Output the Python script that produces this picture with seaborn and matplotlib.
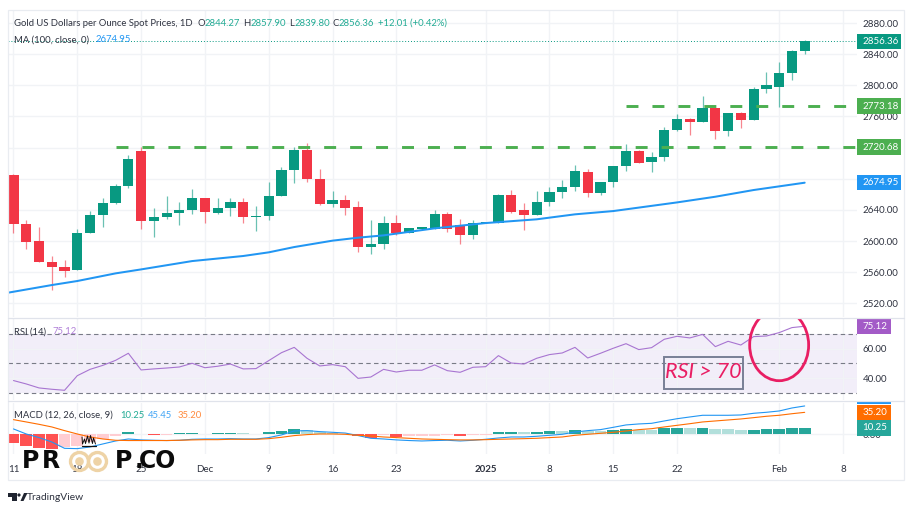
import matplotlib
matplotlib.use("Agg")
import matplotlib.pyplot as plt
import numpy as np
import pandas as pd
import seaborn as sns
from matplotlib.patches import Circle, Ellipse, Polygon, Rectangle

# ---------- data ----------
opens = [2684.9, 2621.5, 2600.0, 2573.0, 2567.0, 2563.0, 2610.0, 2633.5, 2648.5, 2671.0,
         2715.7, 2625.8, 2631.0, 2636.5, 2640.3, 2655.0, 2636.5, 2642.0, 2649.8, 2631.0,
         2632.6, 2658.0, 2691.3, 2717.0, 2679.3, 2647.6, 2652.8, 2643.4, 2592.0, 2596.3,
         2622.8, 2610.8, 2616.0, 2615.0, 2634.4, 2620.7, 2607.4, 2623.2, 2623.6, 2659.6,
         2639.5, 2634.0, 2649.8, 2663.5, 2669.0, 2689.0, 2661.3, 2676.3, 2696.4, 2715.6,
         2702.0, 2708.4, 2742.2, 2756.7, 2753.3, 2770.4, 2741.3, 2764.0, 2755.0, 2795.3,
         2797.8, 2816.2, 2844.27]
closes = [2621.5, 2599.3, 2573.0, 2567.0, 2561.6, 2610.0, 2633.5, 2648.5, 2671.0, 2705.4,
          2625.8, 2631.0, 2636.5, 2640.0, 2655.0, 2637.4, 2642.0, 2649.8, 2631.0, 2632.0,
          2657.9, 2691.3, 2717.0, 2679.3, 2647.2, 2652.8, 2642.5, 2592.0, 2596.3, 2622.8,
          2610.0, 2616.8, 2617.7, 2634.4, 2615.0, 2607.4, 2622.8, 2623.5, 2659.6, 2637.4,
          2634.0, 2650.0, 2663.5, 2669.5, 2690.4, 2662.0, 2676.3, 2696.4, 2715.6, 2700.7,
          2708.4, 2742.2, 2756.3, 2753.3, 2771.3, 2741.8, 2764.0, 2755.0, 2795.3, 2800.8,
          2816.2, 2844.5, 2856.36]
highs = [2686.0, 2627.0, 2618.5, 2581.0, 2575.7, 2615.0, 2639.0, 2655.0, 2673.0, 2711.0,
         2721.0, 2642.0, 2658.0, 2649.8, 2666.5, 2655.0, 2655.0, 2656.0, 2655.0, 2645.0,
         2675.4, 2694.7, 2721.0, 2725.5, 2692.6, 2664.0, 2658.8, 2652.0, 2627.0, 2632.0,
         2633.5, 2617.0, 2618.0, 2640.0, 2637.8, 2628.0, 2627.0, 2624.0, 2660.5, 2665.6,
         2649.0, 2664.0, 2669.9, 2678.5, 2697.7, 2692.5, 2676.5, 2696.5, 2724.6, 2717.0,
         2714.4, 2746.0, 2763.0, 2757.6, 2785.8, 2771.7, 2764.9, 2765.7, 2798.3, 2817.5,
         2830.3, 2845.3, 2857.9]
lows = [2610.8, 2590.0, 2573.0, 2537.0, 2554.0, 2563.0, 2610.0, 2618.5, 2648.0, 2668.6,
        2616.0, 2605.7, 2628.0, 2621.0, 2634.4, 2622.8, 2634.4, 2632.6, 2623.7, 2613.4,
        2627.0, 2658.0, 2675.0, 2675.5, 2646.4, 2643.4, 2633.0, 2586.4, 2583.4, 2589.9,
        2607.8, 2610.0, 2615.0, 2615.0, 2611.7, 2595.9, 2602.7, 2622.8, 2622.8, 2636.5,
        2614.3, 2633.0, 2645.0, 2655.8, 2663.9, 2657.0, 2659.0, 2669.8, 2690.4, 2699.8,
        2689.0, 2702.8, 2742.0, 2736.2, 2752.9, 2730.6, 2734.9, 2744.8, 2755.0, 2789.7,
        2772.1, 2806.8, 2839.8]

ma_days = [-0.43, 3, 5, 8, 10, 14, 18, 20, 22, 25, 27, 29, 33, 37, 41, 44, 47, 52, 55, 58, 62]
ma_values = [2533.8, 2543.6, 2548.8, 2558.6, 2563.7, 2574.4, 2580.9, 2585.6, 2592.4, 2600.6,
             2604.4, 2607.4, 2616.4, 2623.2, 2628.0, 2634.4, 2638.6, 2649.7, 2657.0, 2665.6, 2675.0]

rsi = [38.3, 36.0, 33.3, 32.4, 31.7, 41.6, 45.9, 48.6, 52.0, 56.8,
       45.5, 46.2, 46.8, 47.5, 50.0, 47.0, 48.0, 49.5, 46.2, 46.4,
       51.8, 57.2, 60.8, 53.4, 48.2, 49.1, 47.7, 39.8, 40.7, 45.9,
       44.1, 45.3, 45.3, 48.9, 45.0, 43.9, 47.3, 47.7, 55.2, 50.2,
       49.5, 53.4, 55.9, 57.0, 60.8, 53.6, 56.8, 60.2, 63.3, 59.3,
       60.6, 66.3, 68.3, 67.2, 69.6, 61.3, 64.9, 62.4, 68.1, 68.5,
       70.8, 74.2, 75.12]

macd = [8.6, 0.5, -5.3, -12.3, -22.5, -23.0, -20.3, -15.5, -10.7, -7.5,
        -9.0, -9.6, -10.0, -9.6, -8.0, -7.5, -7.5, -7.0, -7.5, -7.5,
        -5.3, -1.0, 5.3, 5.9, 4.3, 3.2, 2.0, -2.0, -6.4, -7.5,
        -9.0, -10.0, -10.7, -10.0, -9.6, -10.7, -9.6, -8.0, -5.9, -4.3,
        -4.3, -3.2, -1.6, 0.0, 3.7, 5.9, 7.5, 11.2, 15.0, 16.6,
        17.6, 21.4, 25.0, 27.8, 30.5, 30.5, 30.5, 31.0, 33.7, 35.3,
        37.4, 42.2, 45.45]
signal = [23.5, 19.8, 16.0, 11.8, 5.9, 0.5, -4.3, -7.5, -9.6, -10.0,
          -10.0, -10.0, -10.0, -9.6, -9.0, -8.6, -8.6, -8.0, -8.0, -8.0,
          -7.0, -4.8, -2.1, -0.5, 0.5, 0.5, 0.0, -1.6, -2.7, -4.3,
          -5.3, -6.4, -7.5, -8.0, -8.6, -9.0, -9.0, -8.6, -8.0, -7.5,
          -7.0, -6.4, -5.3, -4.3, -1.6, 0.0, 1.6, 3.2, 5.3, 7.5,
          9.0, 11.8, 14.4, 17.0, 19.8, 21.4, 23.0, 24.6, 26.7, 28.9,
          30.5, 33.0, 35.2]
hist = [-14.4, -18.2, -22.5, -23.0, -20.0, -18.0, -13.0, -7.0, -3.0, 3.0,
        1.0, -1.2, -0.5, 1.4, 2.0, 1.0, 2.0, 2.4, 1.5, 0.7,
        2.9, 5.5, 8.5, 6.5, 4.0, 1.5, 0.3, -3.0, -6.0, -1.5,
        -4.0, -3.5, -2.5, -2.0, -1.5, -3.0, -1.0, -0.5, 3.0, 3.2,
        3.0, 4.0, 5.5, 5.3, 7.0, 6.0, 5.5, 7.5, 8.5, 7.5,
        7.0, 9.5, 10.5, 10.0, 10.5, 9.0, 8.0, 6.5, 7.5, 8.0,
        8.7, 9.8, 10.25]

price_ticks = [2880, 2840, 2800, 2760, 2720, 2680, 2640, 2600, 2560, 2520]
rsi_ticks = [60, 40]
date_ticks = [0, 5, 10, 15, 20, 25, 30, 37, 42, 47, 52, 60, 65]
date_labels = ["11", "18", "25", "Dec", "9", "16", "23", "2025", "8", "15", "22", "Feb", "8"]

GREEN = "#089981"
RED = "#f23645"
BLUE = "#2196f3"
ORANGE = "#ff6d00"
PURPLE = "#a875d1"
LEVEL = "#4caf50"
PINK = "#e91e63"
GRID = "#f1f3f6"
TEXT = "#2f3340"
FONT = ["Lato", "DejaVu Sans"]

sns.set_style("white")
plt.rcParams["font.family"] = FONT

days = np.arange(len(closes))
df = pd.DataFrame({"day": days, "open": opens, "close": closes, "high": highs, "low": lows,
                   "rsi": rsi, "macd": macd, "signal": signal, "hist": hist})
df["up"] = df["close"] >= df["open"]
df["color"] = np.where(df["up"], GREEN, RED)

W, H = 912, 513
fig = plt.figure(figsize=(W / 100, H / 100), dpi=100, facecolor="white")


def panel(left, top, right, bottom):
    return fig.add_axes([left / W, 1 - bottom / H, (right - left) / W, (bottom - top) / H])


ax = panel(8, 10, 857, 317)
ax_rsi = panel(8, 318, 857, 400)
ax_macd = panel(8, 403, 857, 454)

for a in (ax, ax_rsi, ax_macd):
    a.set_xlim(-0.43, 66.1)
    a.set_xticks(date_ticks)
    a.grid(True, color=GRID, lw=1.0)
    a.set_axisbelow(True)
    a.yaxis.tick_right()
    a.tick_params(length=0, labelsize=7.0, labelcolor=TEXT, pad=4.2)
    sns.despine(ax=a, left=True, bottom=True, right=True, top=True)


def badge(a, value, label, color, width):
    # coloured tag on the price scale, height is 15.5 px whatever the panel's scale
    y0, y1 = a.get_ylim()
    h = 15.5 * (y1 - y0) / (a.get_position().height * H)
    tr = a.get_yaxis_transform()
    a.add_patch(Rectangle((1, value - h / 2), width / 849, h, transform=tr, fc=color, ec="none",
                          clip_on=False, zorder=20))
    a.text(1 + 5.5 / 849, value, label, transform=tr, color="white", fontsize=7.0,
           va="center", ha="left", zorder=21, clip_on=False)


# ---------- price panel ----------
ax.set_ylim(2502.6, 2896.7)
ax.set_yticks(price_ticks)
ax.set_yticklabels([f"{t:.2f}" for t in price_ticks])
ax.set_xticklabels([])

ax.vlines(df["day"], df["low"], df["high"], colors=df["color"], lw=0.9, alpha=0.6, zorder=2)
ax.bar(df["day"], (df["close"] - df["open"]).abs().clip(lower=0.8),
       bottom=df[["open", "close"]].min(axis=1), width=0.8, color=df["color"], lw=0, zorder=3)

sns.lineplot(x=ma_days, y=ma_values, color=BLUE, lw=1.45, ax=ax, zorder=4)
ax.axhline(closes[-1], color=GREEN, lw=0.7, ls=(0, (1, 2)), zorder=1)

# support / resistance levels, with the day they start on
for level, start in [(2720.68, 8.03), (2773.18, 48.0)]:
    ax.plot([start, 66.1], [level, level], color=LEVEL, lw=2.1, dashes=(4.1, 4.8),
            dash_capstyle="butt", zorder=5)

badge(ax, closes[-1], "2856.36", GREEN, 44)
badge(ax, 2773.18, "2773.18", LEVEL, 44)
badge(ax, 2720.68, "2720.68", LEVEL, 44)
badge(ax, ma_values[-1], "2674.95", BLUE, 44)

# ---------- RSI panel ----------
ax_rsi.set_ylim(50 - 36.7 / 1.475, 50 + 45.3 / 1.475)
ax_rsi.set_yticks(rsi_ticks)
ax_rsi.set_yticklabels([f"{t:.2f}" for t in rsi_ticks])
ax_rsi.set_xticklabels([])
ax_rsi.axhspan(30, 70, color="#f2eef9", lw=0, zorder=0)
for lvl in (70, 50, 30):
    ax_rsi.axhline(lvl, color="#787b86", lw=0.8, ls=(0, (4, 3)), zorder=1)
sns.lineplot(data=df, x="day", y="rsi", color=PURPLE, lw=0.8, ax=ax_rsi, zorder=3)
ax_rsi.set_xlabel("")
ax_rsi.set_ylabel("")
badge(ax_rsi, rsi[-1], "75.12", "#a35bc7", 34)
ax_rsi.add_patch(Ellipse((60, 62.4), 4.62, 48.4, fill=False, ec=PINK, lw=2.0, zorder=6))

# ---------- MACD panel ----------
ax_macd.set_ylim(-31.6, 50.2)
ax_macd.set_yticks([0])
ax_macd.set_yticklabels(["0.00"])

# same colour rule as the chart: dark when the bar grows, pale when it shrinks
prev = df["hist"].shift(1).fillna(0)
growing = np.where(df["hist"] >= 0, df["hist"] > prev, df["hist"] < prev)
df["hist_color"] = np.select(
    [(df["hist"] >= 0) & growing, df["hist"] >= 0, growing],
    ["#26a69a", "#b2dfdb", "#ff5252"], default="#ffcdd2")
ax_macd.bar(df["day"], df["hist"], width=0.92, color=df["hist_color"], lw=0, zorder=2)
sns.lineplot(data=df, x="day", y="macd", color=BLUE, lw=0.8, ax=ax_macd, zorder=3)
sns.lineplot(data=df, x="day", y="signal", color=ORANGE, lw=0.8, ax=ax_macd, zorder=4)
ax_macd.set_xlim(-0.43, 66.1)
ax_macd.set_xticks(date_ticks)
ax_macd.set_xticklabels(date_labels)
ax_macd.set_xlabel("")
ax_macd.set_ylabel("")
ax_macd.tick_params(axis="x", pad=8)
ax_macd.get_xticklabels()[7].set_fontweight("bold")
badge(ax_macd, signal[-1], "35.20", ORANGE, 34)
badge(ax_macd, hist[-1], "10.25", "#26a69a", 34)

# ---------- overlay in picture pixels: frame, header texts, logos ----------
ov = fig.add_axes([0, 0, 1, 1], zorder=30)
ov.set_xlim(0, W)
ov.set_ylim(H, 0)
ov.axis("off")
ov.patch.set_alpha(0)

ov.add_patch(Rectangle((8, 9.5), 896.5, 470.5, fill=False, ec="#e9ecf1", lw=0.9))
ov.plot([8, 904], [317.7, 317.7], color="#e0e3eb", lw=0.9)
ov.plot([8, 904], [400.7, 400.7], color="#e0e3eb", lw=0.9)
ov.add_patch(Rectangle((857, 401), 34, 2.5, fc=BLUE, ec="none"))

header = [
    (14, 23.5, "Gold US Dollars per Ounce Spot Prices, 1D", TEXT),
    (198, 23.5, "O", TEXT), (205, 23.5, "2844.27", "#22ab94"),
    (243.5, 23.5, "H", TEXT), (250.5, 23.5, "2857.90", "#22ab94"),
    (289, 23.5, "L", TEXT), (294.5, 23.5, "2839.80", "#22ab94"),
    (332.7, 23.5, "C", TEXT), (339, 23.5, "2856.36", "#22ab94"),
    (378, 23.5, "+12.01 (+0.42%)", "#22ab94"),
    (14, 40, "MA (100, close, 0)", TEXT), (96, 40, "2674.95", BLUE),
    (14, 332, "RSI (14)", TEXT), (52, 332, "75.12", "#b07fd8"),
    (14, 415, "MACD (12, 26, close, 9)", TEXT), (120, 415, "10.25", "#22ab94"),
    (148, 415, "45.45", "#42a5f5"), (178, 415, "35.20", "#ff8a3d"),
]
for x, y, s, c in header:
    ov.text(x, y, s, color=c, fontsize=6.8, va="center", ha="left")

# annotation box
ov.add_patch(Rectangle((664, 356.5), 79, 32.5, fill=False, ec="#787f96", lw=1.4))
ov.text(703.5, 372.5, "RSI > 70", color=PINK, fontsize=15.5, style="italic", ha="center", va="center")

# watermark
for cx in (79.5, 97.5):
    ov.add_patch(Circle((cx, 461.5), 9, fill=False, ec="#eed3a6", lw=2.4))
    ov.add_patch(Circle((cx, 461.5), 4.3, fc="#eed3a6", ec="none"))
for x, s in [(22, "P"), (42, "R"), (115, "P"), (135, "."), (139, "CO")]:
    ov.text(x, 468, s, color="#0b0b0b", fontsize=17, family=["DejaVu Sans"],
            fontweight="bold", va="baseline", ha="left")
crown_x = [82, 82.5, 84.5, 85.5, 87.5, 89, 90.5, 92.5, 93.5, 95.5, 96, 82]
crown_y = [437, 444, 439, 443.5, 436, 443, 435.5, 443.5, 438, 444, 437, 437]
ov.plot(crown_x[:-2], crown_y[:-2], color="#111111", lw=0.7)
ov.plot([82, 96], [445.5, 445.5], color="#111111", lw=0.9)

# TradingView footer
ov.add_patch(Polygon([(8, 493), (17, 493), (17, 501), (12.5, 501), (12.5, 497), (8, 497)],
                     fc="#1f2430", ec="none"))
ov.add_patch(Circle((19, 495), 1.6, fc="#1f2430", ec="none"))
ov.add_patch(Polygon([(20.5, 501), (24, 493), (27.5, 493), (23.5, 501)], fc="#1f2430", ec="none"))
ov.text(27, 497, "TradingView", color="#2f3340", fontsize=7.4, va="center", ha="left")

fig.savefig("out.png", dpi=100)
